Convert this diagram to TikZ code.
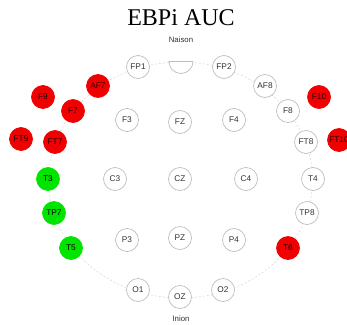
\documentclass[tikz,border=0pt]{standalone}
\usepackage{fontspec}
\setmainfont{Liberation Serif}
\setsansfont{Liberation Sans}
\definecolor{elred}{RGB}{240,0,0}
\definecolor{elgreen}{RGB}{0,228,0}
\definecolor{elgray}{RGB}{190,190,190}
\definecolor{eltext}{RGB}{50,50,50}
\definecolor{hottext}{RGB}{40,0,0}
\begin{document}
\begin{tikzpicture}[x=1pt,y=-1pt,
  electrode/.style={circle,minimum size=23pt,inner sep=0pt,draw=elgray,line width=0.7pt,fill=white,
    font=\sffamily\fontsize{8.3}{9}\selectfont,text=eltext},
  hot/.style={electrode,draw=elred,fill=elred,text=hottext},
  good/.style={electrode,draw=elgreen,fill=elgreen,text=black},
  outline/.style={draw=elgray!55,line width=0.6pt,dash pattern=on 2pt off 2pt},
  landmark/.style={font=\sffamily\fontsize{7.8}{8}\selectfont,text=eltext,inner sep=0pt}]
\useasboundingbox (0,0) rectangle (347,324);
% head outline
\draw[outline] (180.5,180) ellipse [x radius=132, y radius=118];
% nose (Naison)
\draw[draw=elgray,line width=0.7pt,fill=white] (169,61.5) arc[start angle=180,end angle=0,radius=12] -- cycle;
\node[landmark] (naison) at (181,40) {Naison};
\node[landmark] (inion) at (181,319) {Inion};
\node[font=\fontsize{24}{26}\selectfont,inner sep=0pt] (title) at (181,18) {EBPi AUC};
% electrodes
\node[electrode] (FP1) at (138,67) {FP1};
\node[electrode] (FP2) at (224,67) {FP2};
\node[hot] (AF7) at (98,86) {AF7};
\node[electrode] (AF8) at (265,86) {AF8};
\node[hot] (F9) at (43,97) {F9};
\node[hot] (F10) at (319,97) {F10};
\node[hot] (F7) at (73,111) {F7};
\node[electrode] (F8) at (288,111) {F8};
\node[electrode] (F3) at (127,120) {F3};
\node[electrode] (FZ) at (180,122) {FZ};
\node[electrode] (F4) at (234,120) {F4};
\node[hot] (FT9) at (21,139) {FT9};
\node[hot] (FT7) at (55,142) {FT7};
\node[electrode] (FT8) at (306,142) {FT8};
\node[hot] (FT10) at (339,140) {FT10};
\node[good] (T3) at (48,179) {T3};
\node[electrode] (C3) at (115,179) {C3};
\node[electrode] (CZ) at (180,179) {CZ};
\node[electrode] (C4) at (246,179) {C4};
\node[electrode] (T4) at (313,179) {T4};
\node[good] (TP7) at (54,213) {TP7};
\node[electrode] (TP8) at (307,213) {TP8};
\node[good] (T5) at (71,248) {T5};
\node[electrode] (P3) at (127,240) {P3};
\node[electrode] (PZ) at (180,238) {PZ};
\node[electrode] (P4) at (234,240) {P4};
\node[hot] (T6) at (288,248) {T6};
\node[electrode] (O1) at (138,290) {O1};
\node[electrode] (OZ) at (180,297) {OZ};
\node[electrode] (O2) at (223,290) {O2};
\end{tikzpicture}
\end{document}
